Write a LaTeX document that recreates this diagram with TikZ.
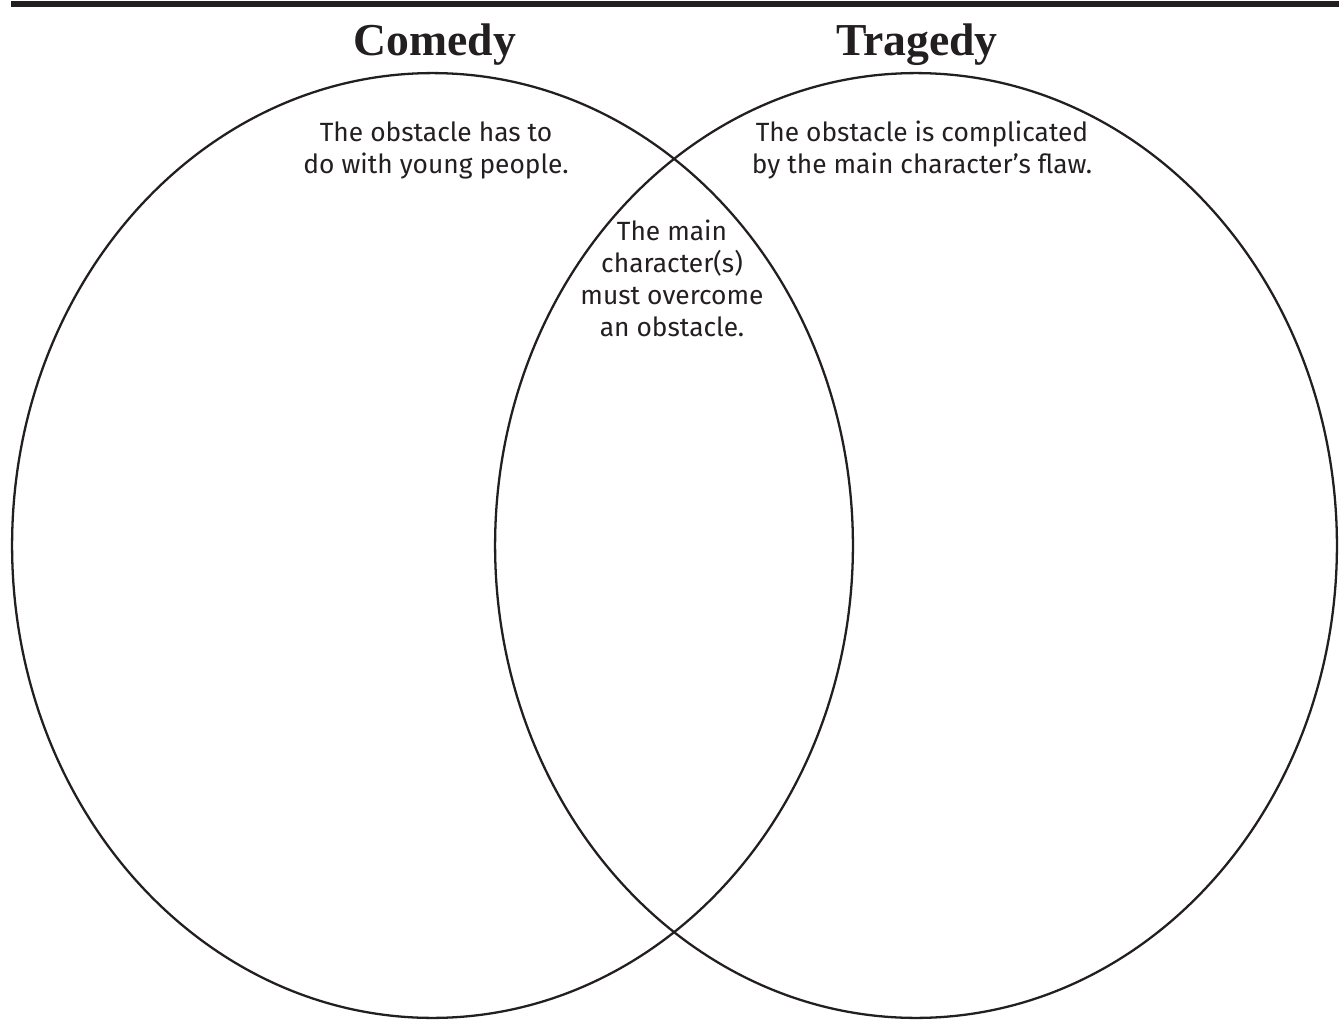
\documentclass[tikz,border=0pt]{standalone}
\usepackage{fontspec}
\usepackage{xcolor}
\newfontfamily\titlefont{Liberation Serif}
\newfontfamily\handfont{Fira Sans}
\definecolor{ink}{HTML}{231F20}
\begin{document}
\begin{tikzpicture}[x=0.02cm,y=-0.02cm,
  every node/.style={inner sep=0pt, outer sep=0pt, text=ink},
  heading/.style={font=\titlefont\bfseries\fontsize{26}{30}\selectfont},
  note/.style={font=\handfont\fontsize{15}{18.2}\selectfont, align=center},
  ring/.style={draw=ink, line width=1.3pt}]
\useasboundingbox (0,0) rectangle (1344,1020);
\fill[ink] (11,1) rectangle (1339,7);
% circles
\draw[ring] (432.5,545.5) ellipse [x radius=8.41cm, y radius=9.45cm];
\draw[ring] (916,545.5) ellipse [x radius=8.42cm, y radius=9.45cm];
% headings
\node[heading] (comedy) at (435,45) {Comedy};
\node[heading] (tragedy) at (917,45) {Tragedy};
% notes
\node[note] (comedynote) at (436,150) {The obstacle has to\\do with young people.};
\node[note] (tragedynote) at (922,150) {The obstacle is complicated\\by the main character’s flaw.};
\node[note] (sharednote) at (672,278) {The main\\character(s)\\must overcome\\an obstacle.};
\end{tikzpicture}
\end{document}
